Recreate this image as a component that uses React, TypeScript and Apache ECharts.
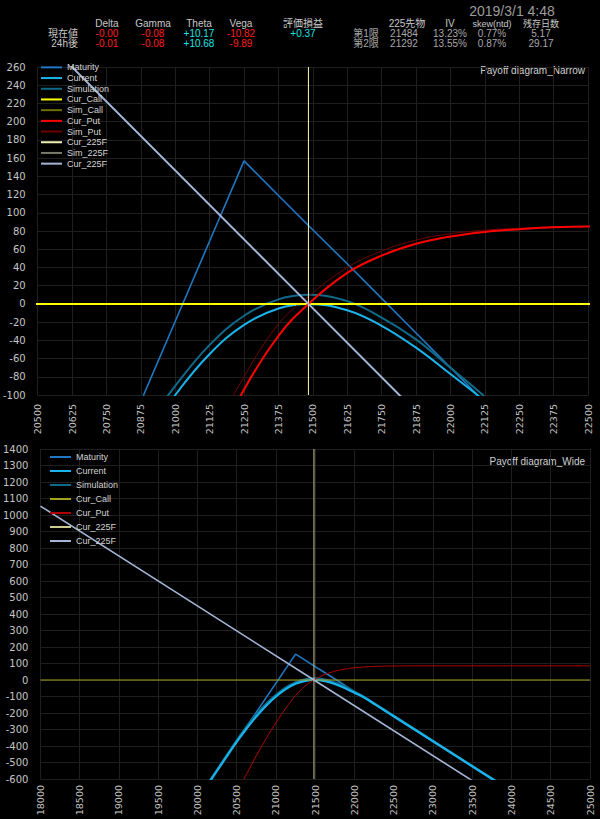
import React, { useEffect, useRef } from "react";
import * as echarts from "echarts";

// ---------- data ----------
const strikes = [18000, 20000, 20250, 20500, 20625, 20750, 20875, 21000, 21125, 21250, 21375, 21484, 21625, 21750, 21875, 22000, 22125, 22250, 22375, 22500, 23000, 23500, 24000, 25000];
const maturity = [-2131, -723, -547, -371, -283, -195, -107, -19, 69, 157, 119, 86, 44, 6, -32, -70, -108, -145, -183, -221, -372, -524, -675, -978];
const current = [-2131, -726, -550, -375, -295, -221, -156, -100, -55, -23, -5, 0, -7, -24, -48, -77, -107, -144, -182, -220, -371, -523, -674, -977];
const simulation = [-2125, -720, -543, -366, -283, -207, -143, -90, -45, -13, 5, 10, 3, -15, -39, -70, -102, -140, -178, -216, -368, -520, -671, -974];
const curPut = [-3150, -1160, -915, -680, -570, -459, -355, -259, -171, -94, -35, 0, 34, 53, 66, 74, 79, 82, 84, 85, 86, 86, 86, 86];

const simPutX = [20875, 21000, 21125, 21250, 21375, 21484, 21625, 21750, 21875, 22000, 22125, 22250, 22375, 22500];
const simPut = [-330, -235, -150, -80, -22, 8, 40, 58, 70, 77, 81, 83, 84.5, 85];

const callX = [18000, 25000];
const curCall = [0, 0];
const simCall = [0, 0];

const futures225 = 21484;
const diag225X = [18000, 21484, 25000];
const diag225 = [1054, 0, -1064];

const narrowRange = { xMin: 20500, xMax: 22500, xStep: 125, yMin: -100, yMax: 260, yStep: 20 };
const wideRange = { xMin: 18000, xMax: 25000, xStep: 500, yMin: -600, yMax: 1400, yStep: 100 };

const greekCols = ["Delta", "Gamma", "Theta", "Vega", "評価損益"];
const nowVals = ["-0.00", "-0.08", "+10.17", "-10.82", "+0.37"];
const after24Vals = ["-0.01", "-0.08", "+10.68", "-9.89"];
const rowLabels = ["現在値", "24h後"];
const futCols = ["225先物", "IV", "skew(ntd)", "残存日数"];
const monthLabels = ["第1限", "第2限"];
const month1 = ["21484", "13.23%", "0.77%", "5.17"];
const month2 = ["21292", "13.55%", "0.87%", "29.17"];
const timestamp = "2019/3/1 4:48";

// ---------- styling ----------
const FONT = "'Liberation Sans', 'Noto Sans CJK JP', sans-serif";
const AXFONT = "'DejaVu Sans', sans-serif";
const RED = "#ff1a1a";
const CYAN = "#1de4e4";
const LABEL = "#c8c8c8";
const GRAYV = "#a8a8a8";

const pairs = (xs: number[], ys: number[]) => xs.map((x, i) => [x, ys[i]]);

function lineSeries(name: string, data: number[][], color: string, width: number, idx: number, smooth: number | boolean = false, z = 2) {
  return {
    type: "line",
    name,
    xAxisIndex: idx,
    yAxisIndex: idx,
    data,
    symbol: "none",
    showSymbol: false,
    smooth,
    clip: true,
    silent: true,
    z,
    lineStyle: { color, width },
    itemStyle: { color },
  };
}

function buildOption() {
  const N = narrowRange;
  const W = wideRange;
  const vLineN = [[futures225, N.yMin], [futures225, N.yMax]];
  const vLineW = [[futures225, W.yMin], [futures225, W.yMax]];

  const topSeries = [
    lineSeries("N:Maturity", pairs(strikes, maturity), "#1f78c1", 1.6, 0),
    lineSeries("N:Current", pairs(strikes, current), "#1ab4ec", 2, 0, 0.4),
    lineSeries("N:Simulation", pairs(strikes, simulation), "#0f6a8a", 2, 0, 0.4),
    lineSeries("N:Cur_Call", pairs(callX, curCall), "#ffff00", 2, 0, false, 3),
    lineSeries("N:Sim_Call", pairs(callX, simCall), "#6e6e00", 1, 0, false, 1),
    lineSeries("N:Cur_Put", pairs(strikes, curPut), "#ff0000", 2, 0, 0.4, 3),
    lineSeries("N:Sim_Put", pairs(simPutX, simPut), "#6e0000", 1, 0, 0.4),
    lineSeries("N:Cur_225F", vLineN, "#f2f0b0", 1, 0, false, 3),
    lineSeries("N:Sim_225F", vLineN, "#7a7a6a", 1, 0, false, 1),
    lineSeries("N2:Cur_225F", pairs(diag225X, diag225), "#a4b6d6", 2, 0, false, 3),
  ];
  const botSeries = [
    lineSeries("W:Maturity", pairs(strikes, maturity), "#1f78c1", 1.6, 1),
    lineSeries("W:Simulation", pairs(strikes, simulation), "#0f6a8a", 2, 1, 0.4),
    lineSeries("W:Current", pairs(strikes, current), "#1ab4ec", 2.2, 1, 0.4),
    lineSeries("W:Cur_Call", pairs(callX, curCall), "#a4a41c", 1, 1),
    lineSeries("W:Cur_Put", pairs(strikes, curPut), "#b00000", 1, 1, 0.4),
    lineSeries("W:Cur_225F", vLineW, "#cccb92", 1, 1),
    lineSeries("W2:Cur_225F", pairs(diag225X, diag225), "#a4b6d6", 1.6, 1),
  ];

  const axisLabel = { color: "#c4c4c4", fontSize: 10, fontFamily: AXFONT };
  const split = { show: true, lineStyle: { color: "#1f1f1f", width: 1 } };
  const fmt = (v: number) => String(v);

  const graphic: any[] = [];
  const txt = (text: string, x: number, y: number, fill: string, size = 10, align = "center") =>
    graphic.push({
      type: "text",
      x,
      y,
      silent: true,
      style: { text, fill, font: `${size}px ${FONT}`, textAlign: align, textVerticalAlign: "middle" },
    });

  const greekX = [107, 153, 199, 241, 303];
  greekCols.forEach((c, i) => txt(c, greekX[i], 23, LABEL));
  txt(rowLabels[0], 78, 33.5, LABEL, 10, "right");
  txt(rowLabels[1], 78, 43.5, LABEL, 10, "right");
  const signColor = (s: string) => (s.startsWith("+") ? CYAN : RED);
  nowVals.forEach((v, i) => txt(v, greekX[i], 33.5, signColor(v)));
  after24Vals.forEach((v, i) => txt(v, greekX[i], 43.5, signColor(v)));

  const futX = [407, 450, 492, 541];
  futCols.forEach((c, i) => txt(c, futX[i], 23.5, LABEL, i >= 2 ? 9 : 10));
  txt(monthLabels[0], 366, 33.5, GRAYV);
  txt(monthLabels[1], 366, 43.5, GRAYV);
  month1.forEach((v, i) => txt(v, futX[i] - (i === 0 ? 3 : 0), 33.5, GRAYV));
  month2.forEach((v, i) => txt(v, futX[i] - (i === 0 ? 3 : 0), 43.5, GRAYV));
  txt(timestamp, 512, 10.5, "#9c9c9c", 14);

  txt("Payoff diagram_Narrow", 585, 70, "#d0d0d0", 10, "right");
  txt("Payoff diagram_Wide", 585, 461, "#d0d0d0", 10, "right");

  const legendFmt = (name: string) => name.split(":")[1];
  const legendText = { color: "#d4d4d4", fontSize: 9, fontFamily: FONT };

  return {
    animation: false,
    backgroundColor: "#000",
    grid: [
      { left: 35, right: 12, top: 67, height: 328 },
      { left: 35, right: 10, top: 449, height: 330 },
    ],
    xAxis: [
      {
        type: "value", gridIndex: 0, min: N.xMin, max: N.xMax, interval: N.xStep,
        axisLine: { show: false }, axisTick: { show: false }, splitLine: split,
        axisLabel: { ...axisLabel, fontSize: 9.5, rotate: 90, margin: 9, formatter: fmt },
      },
      {
        type: "value", gridIndex: 1, min: W.xMin, max: W.xMax, interval: W.xStep,
        axisLine: { show: false }, axisTick: { show: false }, splitLine: split,
        axisLabel: { ...axisLabel, fontSize: 9.5, rotate: 90, margin: 6, formatter: fmt },
      },
    ],
    yAxis: [
      {
        type: "value", gridIndex: 0, min: N.yMin, max: N.yMax, interval: N.yStep,
        axisLine: { show: false }, axisTick: { show: false }, splitLine: split,
        axisLabel: { ...axisLabel, margin: 12, formatter: fmt },
      },
      {
        type: "value", gridIndex: 1, min: W.yMin, max: W.yMax, interval: W.yStep,
        axisLine: { show: false }, axisTick: { show: false }, splitLine: split,
        axisLabel: { ...axisLabel, margin: 12, formatter: fmt },
      },
    ],
    legend: [
      {
        data: topSeries.map((s) => s.name),
        orient: "vertical", left: 41, top: 62, padding: 0, itemGap: 0,
        icon: "rect", itemWidth: 21, itemHeight: 2, selectedMode: false,
        formatter: legendFmt,
        textStyle: { ...legendText, lineHeight: 10.7 },
      },
      {
        data: ["W:Maturity", "W:Current", "W:Simulation", "W:Cur_Call", "W:Cur_Put", "W:Cur_225F", "W2:Cur_225F"],
        orient: "vertical", left: 50, top: 450, padding: 0, itemGap: 0,
        icon: "rect", itemWidth: 21, itemHeight: 2, selectedMode: false,
        formatter: legendFmt,
        textStyle: { ...legendText, lineHeight: 14 },
      },
    ],
    graphic,
    series: [...topSeries, ...botSeries],
  };
}

export default function App() {
  const ref = useRef<HTMLDivElement>(null);
  useEffect(() => {
    document.body.style.margin = "0";
    document.body.style.background = "#000";
    const chart = echarts.init(ref.current!, null, { renderer: "svg" });
    chart.setOption(buildOption() as any);
    return () => chart.dispose();
  }, []);
  return <div ref={ref} style={{ width: 600, height: 819, background: "#000" }} />;
}
